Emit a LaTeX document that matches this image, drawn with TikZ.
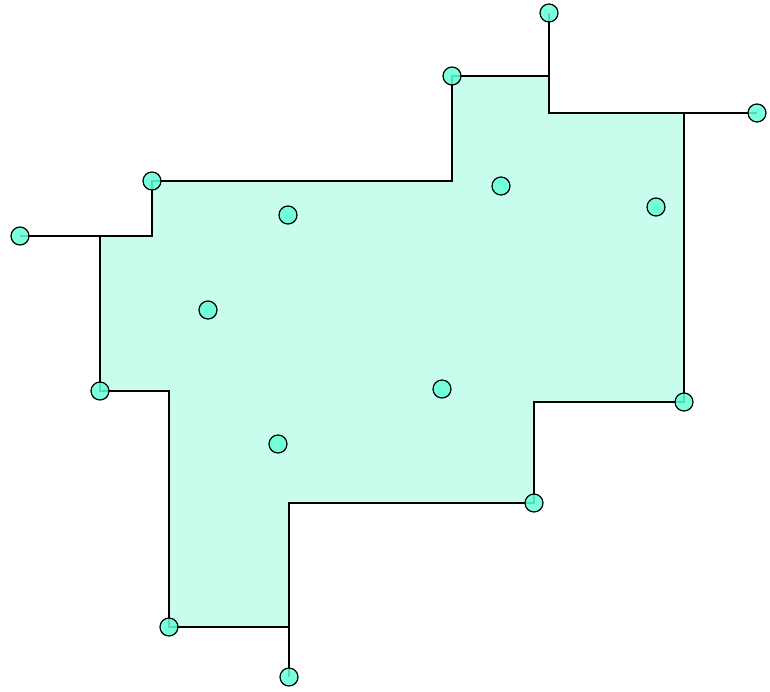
\documentclass[tikz,border=0pt]{standalone}
\begin{document}
\begin{tikzpicture}[x=1pt,y=-1pt,
  region/.style={draw=black,line width=1.3pt,fill={rgb,255:red,200;green,253;blue,238},line join=miter},
  spur/.style={draw=black,line width=1.6pt},
  dot/.style={circle,draw=black,line width=1.2pt,minimum size=18pt,inner sep=0pt,fill={rgb,255:red,100;green,255;blue,214},fill opacity=0.85,draw opacity=1}]
\useasboundingbox (0,0) rectangle (770,691);
% polygon corners
\coordinate (p1) at (152,181);
\coordinate (p2) at (452,181);
\coordinate (p3) at (452,76);
\coordinate (p4) at (549,76);
\coordinate (p5) at (549,113);
\coordinate (p6) at (684,113);
\coordinate (p7) at (684,402);
\coordinate (p8) at (534,402);
\coordinate (p9) at (534,503);
\coordinate (p10) at (289,503);
\coordinate (p11) at (289,627);
\coordinate (p12) at (169,627);
\coordinate (p13) at (169,391);
\coordinate (p14) at (100,391);
\coordinate (p15) at (100,236);
\coordinate (p16) at (152,236);
\path[region] (p1) -- (p2) -- (p3) -- (p4) -- (p5) -- (p6) -- (p7) -- (p8) -- (p9) -- (p10) -- (p11) -- (p12) -- (p13) -- (p14) -- (p15) -- (p16) -- cycle;
% outer points
\coordinate (ca) at (549,13);
\coordinate (cc) at (757,113);
\coordinate (ce) at (20,236);
\coordinate (cj) at (289,677);
\draw[spur] (ca) -- (p4);
\draw[spur] (p6) -- (cc);
\draw[spur] (ce) -- (p15);
\draw[spur] (p11) -- (cj);
% circles
\node[dot] (na) at (ca) {};
\node[dot] (nb) at (p3) {};
\node[dot] (nc) at (cc) {};
\node[dot] (nd) at (p1) {};
\node[dot] (ne) at (ce) {};
\node[dot] (nf) at (p14) {};
\node[dot] (ng) at (p7) {};
\node[dot] (nh) at (p9) {};
\node[dot] (ni) at (p12) {};
\node[dot] (nj) at (cj) {};
\node[dot] (q1) at (288,215) {};
\node[dot] (q2) at (501,186) {};
\node[dot] (q3) at (656,207) {};
\node[dot] (q4) at (208,310) {};
\node[dot] (q5) at (442,389) {};
\node[dot] (q6) at (278,444) {};
\end{tikzpicture}
\end{document}
